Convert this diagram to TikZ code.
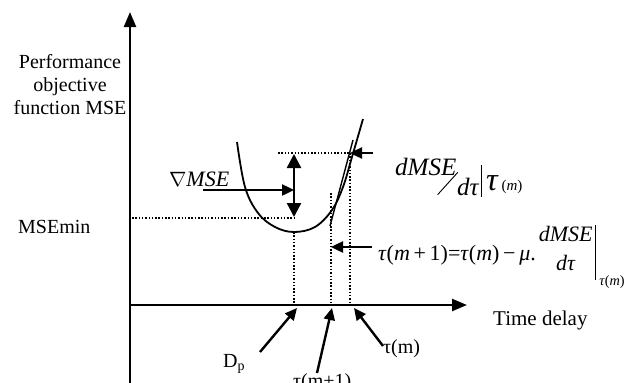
\documentclass[tikz,border=0pt]{standalone}
\usepackage{amsmath, amssymb}
\usepackage{fontspec}
\setmainfont{Liberation Serif}
\usetikzlibrary{arrows.meta, positioning}

\begin{document}
\begin{tikzpicture}[
  x=1pt, y=-1pt,
  axis/.style={-{Triangle[length=15pt, width=12pt]}, line width=2.4pt},
  pointer/.style={-{Triangle[length=12pt, width=11pt]}, line width=2.4pt},
  twoway/.style={{Triangle[length=14pt, width=14pt]}-{Triangle[length=14pt, width=14pt]}, line width=2.4pt},
  guide/.style={line width=1.5pt, dash pattern=on 1.5pt off 1.8pt},
  lbl/.style={font=\fontsize{20}{23}\selectfont, inner sep=0pt}
]
\useasboundingbox (0,0) rectangle (635,383);

\coordinate (ybot) at (130,383);
\coordinate (ytop) at (130,12);
\coordinate (O) at (130,305);
\coordinate (xend) at (467,305);
\coordinate (mse0) at (132,218);
\coordinate (msemin) at (294,218);
\coordinate (minpt) at (294,232);
\coordinate (tm) at (350,153);
\coordinate (tmleft) at (278,153);
\coordinate (tm1top) at (331,193);
\coordinate (dp) at (294,305);
\coordinate (tm1) at (331,305);
\coordinate (tmx) at (350,305);
\coordinate (tantop) at (353,140);
\coordinate (tanbot) at (330,226);

\draw[axis] (ybot) -- (ytop);
\draw[axis] (O) -- (xend);

\draw[line width=1.8pt] plot[smooth, tension=0.6] coordinates {(237,142) (245,187) (258,213) (275,227) (294,232) (315,227) (332,210) (343,187) (352,157) (363,119)};
\draw[line width=1.4pt] (tantop) -- (tanbot);

\draw[guide] (mse0) -- (msemin);
\draw[guide] (tmleft) -- (tm);
\draw[guide] (minpt) -- (dp);
\draw[guide] (tm1top) -- (tm1);
\draw[guide] (tm) -- (tmx);

\draw[twoway] (294,154) -- (294,217);

\node[lbl, align=center] (ylab) at (70,85) {Performance\\objective\\function MSE};
\node[lbl, anchor=base west] (mselab) at (18,233) {MSEmin};
\node[lbl, anchor=base west, font=\fontsize{21}{23}\selectfont] (tdelay) at (493,325) {Time delay};
\node[lbl, anchor=base west, font=\fontsize{22}{23}\selectfont] (gradlab) at (169,186) {$\nabla$\textit{MSE}};
\node[lbl, anchor=base west] (dplab) at (223,367) {D\textsubscript{p}};
\node[lbl, anchor=base west] (tmlab) at (383,353) {τ(m)};
\node[lbl, anchor=base west] (tm1lab) at (293,387) {τ(m+1)};

\node[lbl, anchor=base west, font=\fontsize{25}{26}\selectfont] (slope) at (395,190)
  {\raisebox{15pt}{\textit{dMSE}}\kern-19pt\raisebox{-5pt}{\rotatebox{48}{\rule{30pt}{0.9pt}}}\kern-1pt\raisebox{-5pt}{\textit{dτ}}\kern2pt\rule[-7pt]{0.8pt}{32pt}\kern4pt\scalebox{1.3}{\textit{τ}}\kern3pt\scalebox{0.6}{(\textit{m})}};
\node[lbl, anchor=base west, font=\fontsize{22}{24}\selectfont] (update) at (378,260)
  {\textit{τ}(\textit{m}\,+\,1)=\textit{τ}(\textit{m})\,−\,\textit{μ}.\kern3pt\rlap{\makebox[54pt]{\raisebox{19pt}{\textit{dMSE}}}}\makebox[54pt]{\raisebox{-10pt}{\textit{dτ}}}\kern2pt\rule[-20pt]{0.8pt}{55pt}\raisebox{-25pt}{\,\scalebox{0.65}{\textit{τ}(\textit{m})}}};

\coordinate (gradtail) at (203,190);
\coordinate (gradhead) at (294,190);
\coordinate (slopetail) at (373,153);
\coordinate (updtail) at (372,247);
\coordinate (updhead) at (331,247);
\coordinate (dptail) at (260,352);
\coordinate (dphead) at (297,308);
\coordinate (tm1tail) at (317,373);
\coordinate (tm1head) at (332,308);
\coordinate (tmtail) at (383,346);
\coordinate (tmhead) at (354,308);

\draw[pointer] (gradtail) -- (gradhead);
\draw[pointer] (slopetail) -- (tm);
\draw[pointer] (updtail) -- (updhead);
\draw[pointer] (dptail) -- (dphead);
\draw[pointer] (tm1tail) -- (tm1head);
\draw[pointer] (tmtail) -- (tmhead);
\end{tikzpicture}
\end{document}
